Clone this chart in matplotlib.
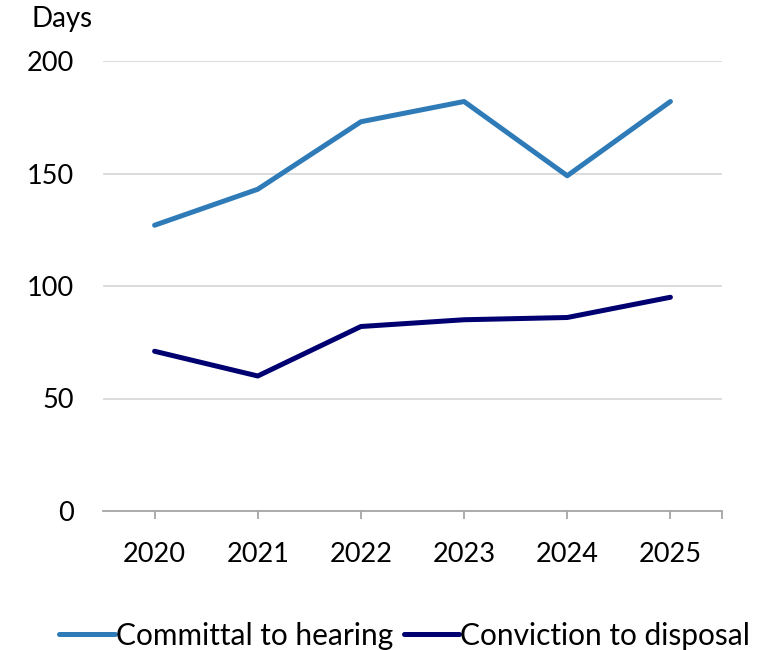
import matplotlib
matplotlib.use("Agg")
import matplotlib.pyplot as plt

plt.rcParams['font.family'] = ['Lato', 'DejaVu Sans']

years = ["2020", "2021", "2022", "2023", "2024", "2025"]
committal_to_hearing = [127, 143, 173, 182, 149, 182]
conviction_to_disposal = [71, 60, 82, 85, 86, 95]
yticks = [0, 50, 100, 150, 200]

fig = plt.figure(figsize=(7.77, 6.5), dpi=100)
ax = fig.add_axes([103/777, 1-511/650, (722-103)/777, (511-61)/650])

x = list(range(len(years)))
ax.plot(x, committal_to_hearing, color="#2E7BB7", lw=3.6, solid_capstyle="round",
        solid_joinstyle="round", label="Committal to hearing", zorder=3)
ax.plot(x, conviction_to_disposal, color="#000070", lw=3.6, solid_capstyle="round",
        solid_joinstyle="round", label="Conviction to disposal", zorder=3)

ax.set_xlim(-0.5, len(years) - 0.5)
ax.set_ylim(0, 200)
ax.set_yticks(yticks)
ax.set_yticklabels([str(v) for v in yticks])
ax.set_xticks(x + [len(years) - 0.5])
ax.set_xticklabels(years + [""])

for s in ["left", "right", "top"]:
    ax.spines[s].set_visible(False)
ax.spines["bottom"].set_color("#A6A6A6")
ax.spines["bottom"].set_linewidth(1.3)
ax.grid(axis="y", color="#D9D9D9", lw=1.3, zorder=0)
ax.set_axisbelow(True)

ax.tick_params(axis="y", length=0, pad=21, labelsize=19.5)
ax.tick_params(axis="x", length=6, width=1.3, color="#A6A6A6", pad=16, labelsize=19.5)

fig.text(32/777, 1-19/650, "Days", fontsize=20, va="center", ha="left")

fig.legend(loc="lower center", bbox_to_anchor=(0.521, -0.041), ncol=2, frameon=False,
           fontsize=21.5, handlelength=1.85, handletextpad=0.05, columnspacing=0.35)

fig.savefig("out.png", dpi=100)
